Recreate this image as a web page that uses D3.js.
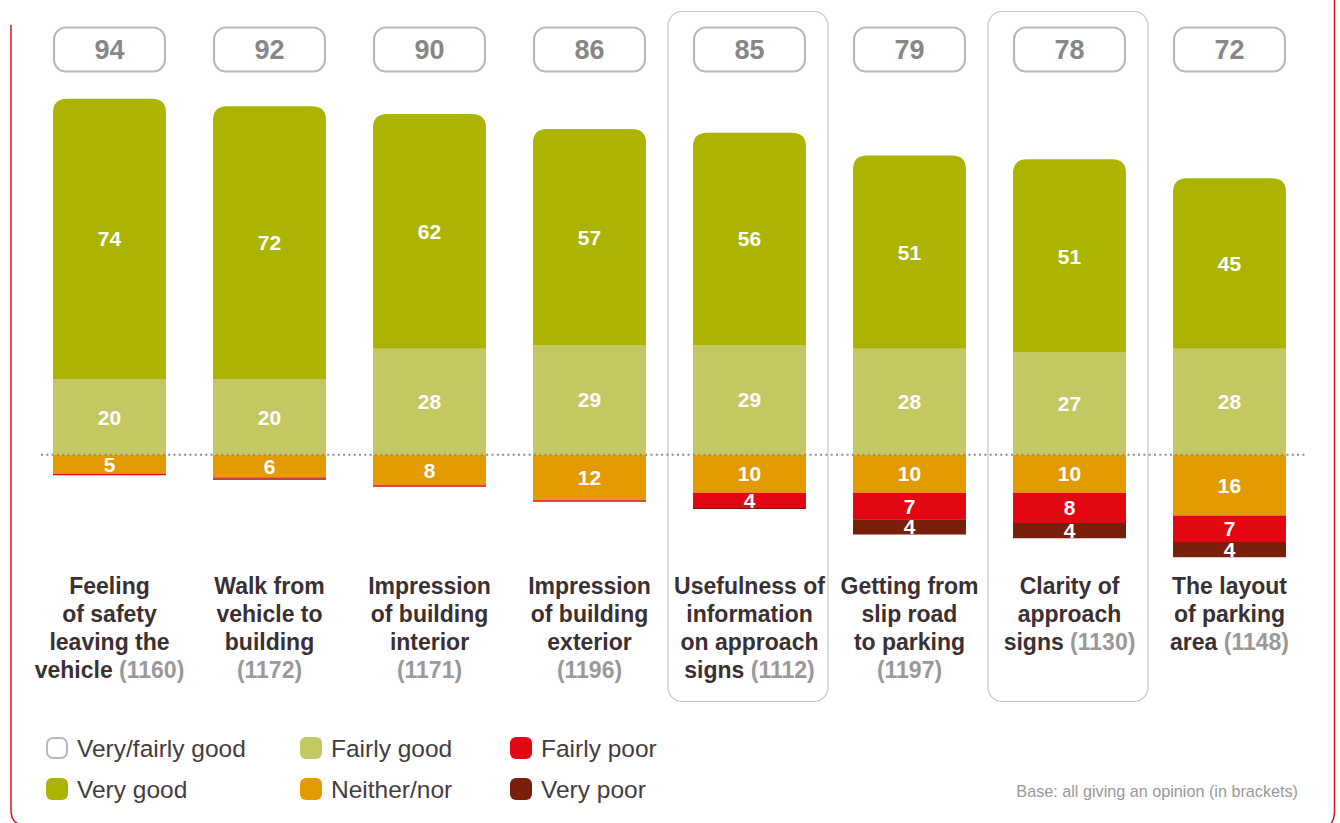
<!DOCTYPE html>
<html>
<head>
<meta charset="utf-8">
<script src="https://cdn.jsdelivr.net/npm/d3@7/dist/d3.min.js"></script>
<style>
  html, body { margin: 0; padding: 0; background: #fff; }
  svg { display: block; }
</style>
</head>
<body>
<svg id="chart" width="1340" height="823"></svg>
<script>
// Survey ratings per aspect, in percent
const categories = [
  ["Feeling", "of safety", "leaving the", "vehicle"],
  ["Walk from", "vehicle to", "building"],
  ["Impression", "of building", "interior"],
  ["Impression", "of building", "exterior"],
  ["Usefulness of", "information", "on approach", "signs"],
  ["Getting from", "slip road", "to parking"],
  ["Clarity of", "approach", "signs"],
  ["The layout", "of parking", "area"]
];
const bases = [1160, 1172, 1171, 1196, 1112, 1197, 1130, 1148];
// base shown on its own line (true) or after the last word (false)
const baseOwnLine = [false, true, true, true, false, true, false, false];

const veryFairlyGood = [94, 92, 90, 86, 85, 79, 78, 72];
const veryGood   = [74, 72, 62, 57, 56, 51, 51, 45];
const fairlyGood = [20, 20, 28, 29, 29, 28, 27, 28];
const neither    = [5, 6, 8, 12, 10, 10, 10, 16];
const fairlyPoor = [0.4, 0.3, 0.4, 0.4, 4, 7, 8, 7];
const veryPoor   = [0, 0.3, 0, 0, 0.3, 4, 4, 4];

const highlighted = [4, 6];

const legendItems = [
  { label: "Very/fairly good", key: "total" },
  { label: "Very good", key: "veryGood" },
  { label: "Fairly good", key: "fairlyGood" },
  { label: "Neither/nor", key: "neither" },
  { label: "Fairly poor", key: "fairlyPoor" },
  { label: "Very poor", key: "veryPoor" }
];

const colors = {
  veryGood: "#abb400",
  fairlyGood: "#c4c863",
  neither: "#e49b00",
  fairlyPoor: "#e30613",
  veryPoor: "#781e0a"
};

const svg = d3.select("#chart");

// Red page frame (sides only)
svg.append("path")
  .attr("d", "M11,25 L11,810 Q11,820 17,823")
  .attr("fill", "none").attr("stroke", "#d9141f").attr("stroke-width", 1.5);
svg.append("path")
  .attr("d", "M1334.5,0 L1334.5,810 Q1334.5,820 1331,823")
  .attr("fill", "none").attr("stroke", "#d9141f").attr("stroke-width", 1.5);

const idx = d3.range(categories.length);
const x = d3.scaleBand().domain(idx).range([29.5, 1309.5])
  .paddingInner(0.294).paddingOuter(0.147);
const y = d3.scaleLinear().domain([-30, 100]).range([456 + 30 * 3.75, 456 - 100 * 3.8]);
const bw = x.bandwidth();
const cx = i => x(i) + bw / 2;

// Highlight frames around selected columns
svg.append("g").selectAll("rect").data(highlighted).join("rect")
  .attr("x", i => cx(i) - 81.5).attr("y", 11.5)
  .attr("width", 160).attr("height", 690)
  .attr("rx", 14)
  .attr("fill", "none").attr("stroke", "#c6c6c6").attr("stroke-width", 1.2);

// Stack segments per bar
const segs = [];
idx.forEach(i => {
  const up = [["fairlyGood", fairlyGood[i]], ["veryGood", veryGood[i]]];
  let acc = 0;
  up.forEach(([k, v]) => { segs.push({ i, k, v, y0: acc, y1: acc + v, top: k === "veryGood" }); acc += v; });
  const down = [["neither", neither[i]], ["fairlyPoor", fairlyPoor[i]], ["veryPoor", veryPoor[i]]];
  acc = 0;
  down.forEach(([k, v]) => { if (v > 0) segs.push({ i, k, v, y0: acc, y1: acc - v, top: false }); acc -= v; });
});

function segPath(d) {
  const x0 = x(d.i), x1 = x(d.i) + bw;
  const yt = y(Math.max(d.y0, d.y1)), yb = y(Math.min(d.y0, d.y1));
  if (!d.top) return `M${x0},${yt}H${x1}V${yb}H${x0}Z`;
  const r = 14;
  return `M${x0},${yb}V${yt + r}Q${x0},${yt} ${x0 + r},${yt}H${x1 - r}Q${x1},${yt} ${x1},${yt + r}V${yb}Z`;
}

svg.append("g").selectAll("path").data(segs).join("path")
  .attr("d", segPath)
  .attr("fill", d => colors[d.k]);

// Segment value labels
svg.append("g").selectAll("text").data(segs.filter(d => d.v >= 1)).join("text")
  .attr("x", d => cx(d.i))
  .attr("y", d => (y(d.y0) + y(d.y1)) / 2)
  .attr("dy", "0.36em")
  .attr("text-anchor", "middle")
  .attr("font-family", "'Liberation Sans', Arial, sans-serif")
  .attr("font-weight", "bold")
  .attr("font-size", 21)
  .attr("fill", "#fff")
  .text(d => Math.round(d.v));

// Zero reference line
svg.append("line")
  .attr("x1", 41).attr("x2", 1305)
  .attr("y1", y(0)).attr("y2", y(0))
  .attr("stroke", "#8c8c8c").attr("stroke-width", 2)
  .attr("stroke-dasharray", "2,3.3");

// Very/fairly good totals in rounded boxes
const tot = svg.append("g").selectAll("g").data(idx).join("g");
tot.append("rect")
  .attr("x", i => x(i) + 1).attr("y", 27.5)
  .attr("width", bw - 2).attr("height", 44)
  .attr("rx", 12)
  .attr("fill", "#fff").attr("stroke", "#b9b9b9").attr("stroke-width", 2.2);
tot.append("text")
  .attr("x", cx).attr("y", 49.5)
  .attr("dy", "0.36em")
  .attr("text-anchor", "middle")
  .attr("font-family", "'Liberation Sans', Arial, sans-serif")
  .attr("font-weight", "bold")
  .attr("font-size", 27)
  .attr("fill", "#878787")
  .text(i => veryFairlyGood[i]);

// Category labels with base sizes
const lab = svg.append("g").selectAll("text").data(idx).join("text")
  .attr("text-anchor", "middle")
  .attr("font-family", "'Liberation Sans', Arial, sans-serif")
  .attr("font-weight", "bold")
  .attr("font-size", 23)
  .attr("fill", "#3a3034");
lab.each(function(i) {
  const t = d3.select(this);
  const lines = categories[i];
  const n = lines.length;
  lines.forEach((ln, j) => {
    const ts = t.append("tspan").attr("x", cx(i)).attr("y", 594 + j * 28).text(ln);
    if (j === n - 1 && !baseOwnLine[i]) {
      ts.append("tspan").attr("fill", "#999").text(" (" + bases[i] + ")");
    }
  });
  if (baseOwnLine[i]) {
    t.append("tspan").attr("x", cx(i)).attr("y", 594 + n * 28)
      .attr("fill", "#999").text("(" + bases[i] + ")");
  }
});

// Legend
const legX = [46, 300, 510];
const legY = [748, 789];
const leg = svg.append("g").selectAll("g").data(legendItems).join("g")
  .attr("transform", (d, j) => `translate(${legX[Math.floor(j / 2)]},${legY[j % 2]})`);
leg.append("rect")
  .attr("x", d => d.key === "total" ? 1 : 0)
  .attr("y", d => d.key === "total" ? -10 : -11)
  .attr("width", d => d.key === "total" ? 20 : 22)
  .attr("height", d => d.key === "total" ? 20 : 22)
  .attr("rx", 6)
  .attr("fill", d => d.key === "total" ? "#fff" : colors[d.key])
  .attr("stroke", d => d.key === "total" ? "#b9b9b9" : "none")
  .attr("stroke-width", 2);
leg.append("text")
  .attr("x", 31).attr("y", 0).attr("dy", "0.36em")
  .attr("font-family", "'Liberation Sans', Arial, sans-serif")
  .attr("font-size", 24.5)
  .attr("fill", "#453c40")
  .text(d => d.label);

// Footnote
svg.append("text")
  .attr("x", 1298).attr("y", 797)
  .attr("text-anchor", "end")
  .attr("font-family", "'Liberation Sans', Arial, sans-serif")
  .attr("font-size", 16.2)
  .attr("fill", "#999")
  .text("Base: all giving an opinion (in brackets)");
</script>
</body>
</html>
